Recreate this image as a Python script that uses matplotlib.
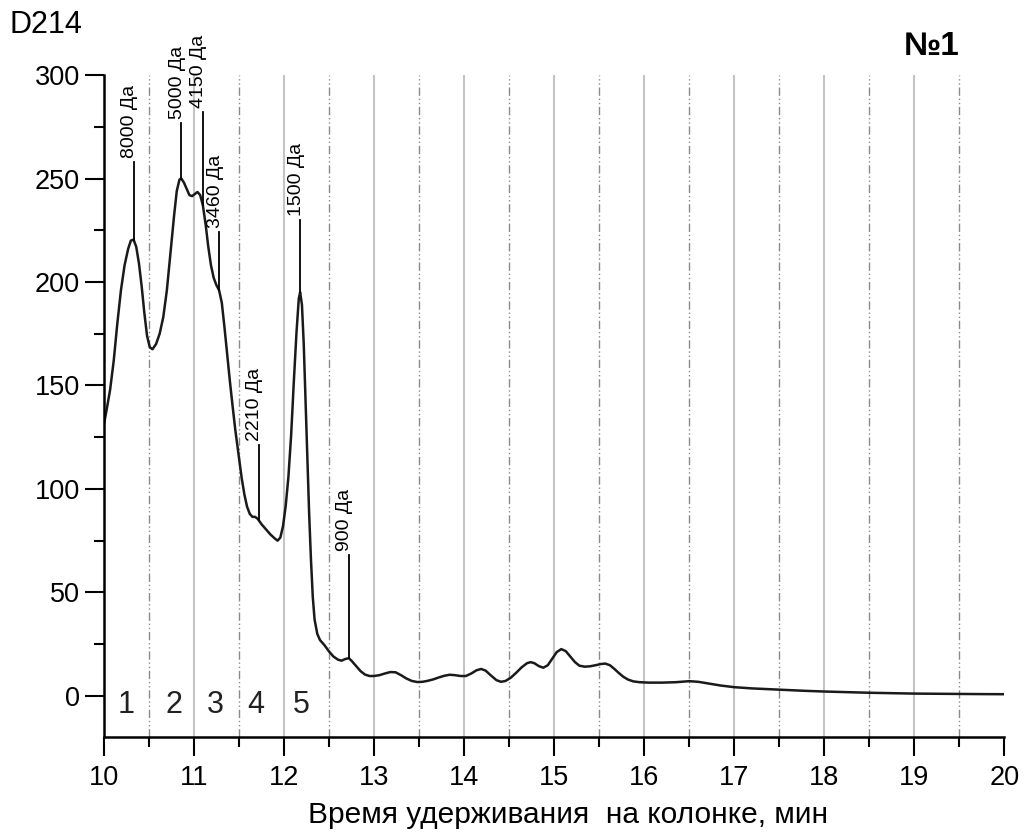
import matplotlib.pyplot as plt
import numpy as np

plt.rcParams['font.family'] = ['Liberation Sans', 'DejaVu Sans']

# chromatogram trace: retention time (min) vs detector signal
time_min = [10.00, 10.03, 10.07, 10.11, 10.15, 10.19, 10.23, 10.27, 10.30, 10.33,
            10.36, 10.39, 10.42, 10.45, 10.48, 10.51, 10.54, 10.58, 10.62, 10.66,
            10.70, 10.74, 10.78, 10.81, 10.84, 10.86, 10.89, 10.92, 10.95, 10.98,
            11.01, 11.04, 11.07, 11.10, 11.13, 11.16, 11.19, 11.22, 11.25, 11.28,
            11.31, 11.34, 11.37, 11.40, 11.43, 11.46, 11.50, 11.53, 11.56, 11.59,
            11.62, 11.65, 11.68, 11.71, 11.75, 11.80, 11.85, 11.90, 11.93, 11.96,
            11.99, 12.02, 12.05, 12.08, 12.11, 12.14, 12.165, 12.18, 12.20, 12.22,
            12.24, 12.26, 12.28, 12.30, 12.32, 12.34, 12.37, 12.40, 12.45, 12.50,
            12.55, 12.60, 12.64, 12.68, 12.72, 12.75, 12.80, 12.85, 12.90, 12.95,
            13.00, 13.06, 13.12, 13.18, 13.24, 13.30, 13.36, 13.42, 13.48, 13.54,
            13.60, 13.66, 13.72, 13.78, 13.84, 13.90, 13.96, 14.02, 14.08, 14.14,
            14.19, 14.24, 14.30, 14.36, 14.41, 14.46, 14.52, 14.58, 14.64, 14.70,
            14.74, 14.78, 14.83, 14.88, 14.93, 14.98, 15.03, 15.08, 15.13, 15.18,
            15.23, 15.28, 15.34, 15.40, 15.46, 15.52, 15.57, 15.62, 15.67, 15.72,
            15.77, 15.82, 15.88, 15.95, 16.05, 16.20, 16.35, 16.50, 16.60, 16.70,
            16.85, 17.00, 17.20, 17.50, 17.75, 18.00, 18.25, 18.50, 18.75, 19.00,
            19.25, 19.50, 19.75, 20.00]
signal = [131, 138, 148, 162, 180, 196, 208, 216, 220, 220.5,
          217, 209, 198, 185, 174, 168.5, 167.5, 170, 175, 183,
          196, 214, 232, 244, 249.5, 250, 248, 245, 242, 241.5,
          242.5, 243.5, 242, 237, 228, 217, 208, 202, 198.5, 196,
          190, 178, 165, 152, 140, 128.5, 115.5, 105.5, 97.5, 91.5,
          88, 86.5, 86.5, 85.5, 83, 80.5, 78, 76, 75, 76.5,
          82, 92, 106, 126, 152, 176, 192, 195, 189, 170,
          143, 115, 88, 66, 48, 37, 30, 27, 24.5, 21.5,
          19, 17.5, 17, 17.8, 18.2, 17, 14.5, 12, 10.3, 9.6,
          9.6, 10, 10.8, 11.5, 11.4, 10, 8.4, 7.2, 6.7, 6.8,
          7.3, 8, 8.9, 9.7, 10.2, 10, 9.6, 9.6, 10.8, 12.4,
          13, 12.2, 9.8, 7.6, 6.8, 7.2, 8.8, 11.2, 13.8, 15.8,
          16.3, 15.8, 14.4, 13.6, 14.8, 18, 21.2, 22.6, 21.6, 19,
          16.4, 14.6, 14.1, 14.3, 14.8, 15.4, 15.6, 14.8, 13, 11,
          9.2, 7.9, 7, 6.6, 6.4, 6.4, 6.6, 7.1, 6.8, 6.1,
          5, 4.2, 3.6, 3, 2.5, 2.1, 1.8, 1.5, 1.3, 1.1,
          1.0, 0.9, 0.85, 0.8]

# molecular weight markers
peak_time = [10.33, 10.86, 11.10, 11.28, 11.72, 12.18, 12.72]
peak_top = [258, 277, 282, 224, 121, 230, 68]
peak_text = ["8000 Да", "5000 Да", "4150 Да", "3460 Да", "2210 Да", "1500 Да", "900 Да"]

# fraction numbers
frac_time = [10.25, 10.78, 11.24, 11.69, 12.19]
frac_text = ["1", "2", "3", "4", "5"]

fig = plt.figure(figsize=(10.28, 8.34), dpi=100)
ax = fig.add_axes([0.101, 0.116, 0.876, 0.794])

for x in np.arange(11, 20, 1):
    ax.axvline(x, color='#c4c4c4', lw=1.5, zorder=0)
for x in np.arange(10.5, 20, 1):
    ax.axvline(x, color='#8a8a8a', lw=1.0, ls=(0, (6, 2, 1, 2, 1, 2)), zorder=0)

ax.plot(time_min, signal, color='#1a1a1a', lw=1.8, solid_joinstyle='round')

# leader lines start on the trace itself
peak_base = np.interp(peak_time, time_min, signal)
for x, b, t, s in zip(peak_time, peak_base, peak_top, peak_text):
    ax.plot([x, x], [b, t], color='black', lw=1.3)
    ax.text(x - 0.045, t + 2, s, rotation=90, ha='center', va='bottom', fontsize=14)

for x, s in zip(frac_time, frac_text):
    ax.text(x, -4.5, s, ha='center', va='center', fontsize=22, color='#222222')

ax.set_xlim(10, 20)
ax.set_ylim(-20, 300)
ax.set_xticks(range(10, 21))
ax.set_xticks(np.arange(10.5, 20, 1), minor=True)
ax.set_yticks(range(0, 301, 50))
ax.set_yticks(range(25, 300, 50), minor=True)
ax.tick_params(which='major', direction='out', length=14, width=1.5, labelsize=19.5, pad=3)
ax.tick_params(which='minor', direction='out', length=7, width=1.5)
ax.tick_params(axis='x', which='major', pad=6)

for side in ['top', 'right']:
    ax.spines[side].set_visible(False)
for side in ['left', 'bottom']:
    ax.spines[side].set_linewidth(1.8)

fig.text(308 / 1028, 1 - 823 / 834, 'Время удерживания  на колонке, мин',
         fontsize=21.5, ha='left', va='baseline')

fig.text(10 / 1028, 1 - 33 / 834, 'D214', fontsize=22, ha='left', va='baseline')
fig.text(960 / 1028, 1 - 55 / 834, '№1', fontsize=24, fontweight='bold', ha='right', va='baseline')

fig.savefig('out.png', dpi=100)
